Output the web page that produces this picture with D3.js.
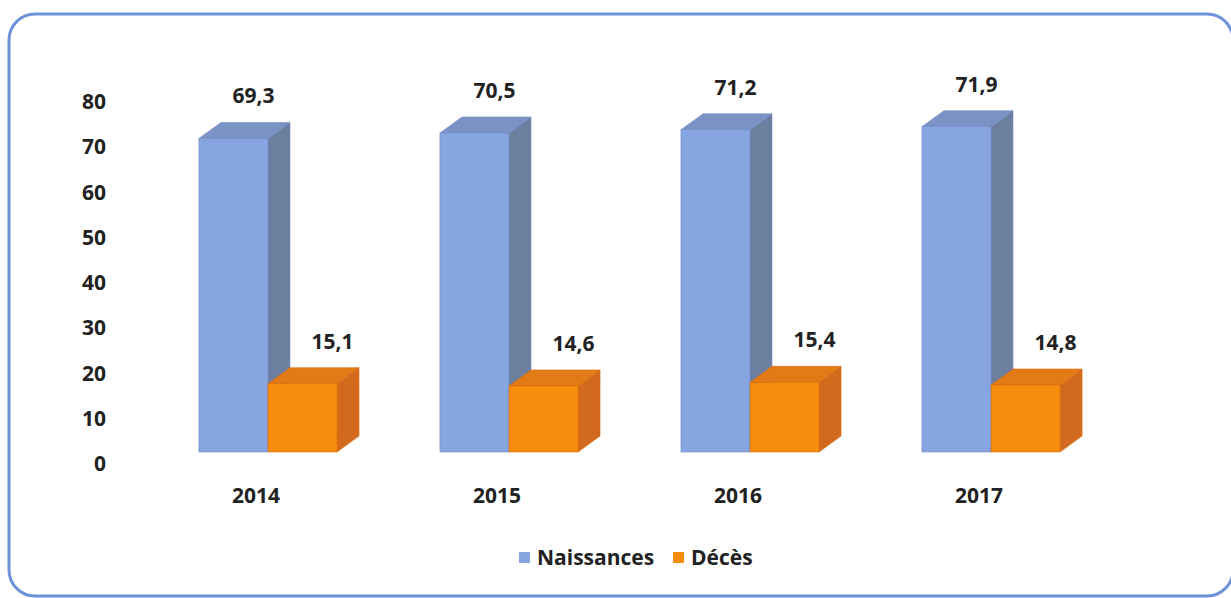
<!DOCTYPE html>
<html>
<head>
<meta charset="utf-8">
<script src="https://d3js.org/d3.v7.min.js"></script>
<style>
  body{margin:0;background:#fff;}
  text{font-family:"Open Sans",sans-serif;font-weight:700;fill:#222;}
</style>
</head>
<body>
<script>
// data
var years=["2014","2015","2016","2017"];
var series=["Naissances","Décès"];
var naissances=[69.3,70.5,71.2,71.9];
var deces=[15.1,14.6,15.4,14.8];
var yTicks=[0,10,20,30,40,50,60,70,80];

var W=1231,H=598;
var svg=d3.select("body").append("svg")
          .attr("width",W)
          .attr("height",H);

// frame
svg.append("rect")
   .attr("x",9).attr("y",14)
   .attr("width",1224).attr("height",582)
   .attr("rx",26)
   .attr("fill","none")
   .attr("stroke","#6c93d9")
   .attr("stroke-width",3);

var xScale=d3.scaleBand()
             .domain(years)
             .range([150,1109])
             .paddingInner(0.427)
             .paddingOuter(0.203);
var x1=d3.scaleBand()
         .domain(series)
         .range([0,xScale.bandwidth()]);
var yScale=d3.scaleLinear()
             .domain([0,80])
             .range([452,90]);

var depth={dx:22,dy:-16};
var colors={
  "Naissances":{front:"#87a5e0",side:"#6d7f9f",top:"#7b93c4",stroke:"#6f8cc6",label:20},
  "Décès":{front:"#f88c0c",side:"#d2691c",top:"#e27a16",stroke:"#d86f10",label:30}
};

var rows=years.map(function(y,i){
  return [{year:y,name:"Naissances",value:naissances[i]},
          {year:y,name:"Décès",value:deces[i]}];
});

var plot=svg.append("g").classed("plot",true);

var groups=plot.selectAll("g.group")
               .data(rows)
               .enter()
               .append("g")
               .classed("group",true);

var bars=groups.selectAll("g.bar")
               .data(function(d){return d;})
               .enter()
               .append("g")
               .classed("bar",true);

function pts(arr){return arr.map(function(p){return p.join(",");}).join(" ");}

// side face
bars.append("polygon")
    .attr("points",function(d){
      var x0=xScale(d.year)+x1(d.name),w=x1.bandwidth();
      var yt=yScale(d.value),yb=yScale(0);
      return pts([[x0+w,yt],[x0+w+depth.dx,yt+depth.dy],[x0+w+depth.dx,yb+depth.dy],[x0+w,yb]]);
    })
    .attr("fill",function(d){return colors[d.name].side;})
    .attr("stroke",function(d){return colors[d.name].stroke;})
    .attr("stroke-width",0.6);
// top face
bars.append("polygon")
    .attr("points",function(d){
      var x0=xScale(d.year)+x1(d.name),w=x1.bandwidth();
      var yt=yScale(d.value);
      return pts([[x0,yt],[x0+depth.dx,yt+depth.dy],[x0+w+depth.dx,yt+depth.dy],[x0+w,yt]]);
    })
    .attr("fill",function(d){return colors[d.name].top;})
    .attr("stroke",function(d){return colors[d.name].stroke;})
    .attr("stroke-width",0.6);
// front face
bars.append("rect")
    .attr("x",function(d){return xScale(d.year)+x1(d.name);})
    .attr("y",function(d){return yScale(d.value);})
    .attr("width",x1.bandwidth())
    .attr("height",function(d){return yScale(0)-yScale(d.value);})
    .attr("fill",function(d){return colors[d.name].front;})
    .attr("stroke",function(d){return colors[d.name].stroke;})
    .attr("stroke-width",0.6);

// value labels
bars.append("text")
    .attr("x",function(d){return xScale(d.year)+x1(d.name)+x1.bandwidth()/2+colors[d.name].label;})
    .attr("y",function(d){return yScale(d.value)-35;})
    .attr("text-anchor","middle")
    .style("font-size","21px")
    .text(function(d){return d3.format(".1f")(d.value).replace(".",",");});

// y axis
var yAxis=d3.axisLeft(yScale).tickValues(yTicks).tickSize(0).tickPadding(0);
var yG=svg.append("g").classed("yAxis",true)
          .attr("transform","translate(106,12)")
          .call(yAxis);
yG.select(".domain").remove();
yG.selectAll("text").style("font-size","21px").attr("fill","#222");

// year labels
var xAxis=d3.axisBottom(xScale).tickSize(0).tickPadding(0);
var xG=svg.append("g").classed("xAxis",true)
          .attr("transform","translate(-12,488)")
          .call(xAxis);
xG.select(".domain").remove();
xG.selectAll("text").style("font-size","21px").attr("fill","#222");

// legend
var legend=svg.append("g").classed("legend",true)
              .attr("transform","translate(519,552)");
var legendX=[0,154];
var legendLines=legend.selectAll("g")
                      .data(series)
                      .enter()
                      .append("g")
                      .attr("transform",function(d,i){return "translate("+legendX[i]+",0)";});
legendLines.append("rect")
           .attr("width",11).attr("height",11)
           .attr("fill",function(d){return colors[d].front;});
legendLines.append("text")
           .attr("x",18).attr("y",13)
           .style("font-size","21px")
           .text(function(d){return d;});
</script>
</body>
</html>
